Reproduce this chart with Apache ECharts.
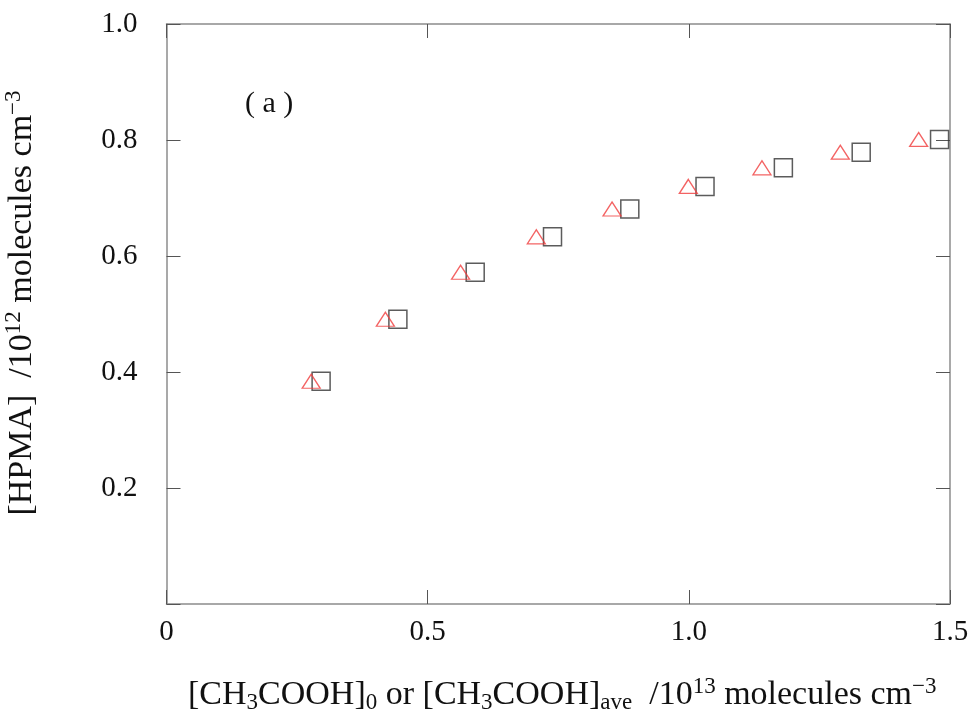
<!DOCTYPE html>
<html>
<head>
<meta charset="utf-8">
<script src="https://cdn.jsdelivr.net/npm/echarts@6/dist/echarts.min.js"></script>
<style>
html,body{margin:0;padding:0;background:#fff;}
#c{width:974px;height:711px;}
</style>
</head>
<body>
<div id="c"></div>
<script>
// Data
var triangleX = [0.277, 0.419, 0.563, 0.708, 0.853, 0.999, 1.140, 1.290, 1.440];
var triangleY = [0.384, 0.491, 0.572, 0.633, 0.681, 0.720, 0.752, 0.779, 0.801];
var squareX   = [0.296, 0.443, 0.591, 0.739, 0.887, 1.031, 1.181, 1.330, 1.480];
var squareY   = [0.384, 0.491, 0.572, 0.633, 0.681, 0.720, 0.752, 0.779, 0.801];
var xTicks = [0, 0.5, 1.0, 1.5];
var yTicks = [0.2, 0.4, 0.6, 0.8, 1.0];
var panelLabel = '( a )';

function pairs(xs, ys){ return xs.map(function(x,i){ return [x, ys[i]]; }); }

var FONT = '"Liberation Serif", "Times New Roman", serif';
var axisLineColor = '#8c8c8c';
var tickColor = '#555';

var nameRich = {
  n:   {fontSize: 34, fontFamily: FONT, color: '#111'},
  sub: {fontSize: 23, fontFamily: FONT, color: '#111', padding: [15,0,0,0]},
  sup: {fontSize: 23, fontFamily: FONT, color: '#111', padding: [0,0,17,0]}
};

var chart = echarts.init(document.getElementById('c'), null, {renderer: 'canvas'});
var option = {
  animation: false,
  backgroundColor: '#fff',
  grid: {left: 166.5, right: 24, top: 24, bottom: 107, containLabel: false, outerBoundsMode: 'none'},
  xAxis: [{
    type: 'value', min: 0, max: 1.5, interval: 0.5, position: 'bottom',
    axisLine: {show: true, onZero: false, lineStyle: {color: axisLineColor, width: 1.5}},
    axisTick: {show: true, inside: true, length: 14, lineStyle: {color: tickColor, width: 1}},
    splitLine: {show: false},
    axisLabel: {
      margin: 14, fontSize: 29, fontFamily: FONT, color: '#111',
      formatter: function(v){
        for (var i=0;i<xTicks.length;i++){ if (Math.abs(xTicks[i]-v)<1e-9) return v===0 ? '0' : v.toFixed(1); }
        return '';
      }
    },
    name: '{n|[CH}{sub|3}{n|COOH]}{sub|0}{n| or [CH}{sub|3}{n|COOH]}{sub|ave}{n|  /10}{sup|13}{n| molecules cm}{sup|−3}',
    nameLocation: 'middle', nameGap: 71,
    nameTextStyle: {rich: nameRich, padding: [0,0,0,8]}
  },{
    type: 'value', min: 0, max: 1.5, interval: 0.5, position: 'top',
    axisLine: {show: true, onZero: false, lineStyle: {color: axisLineColor, width: 1.5}},
    axisTick: {show: true, inside: true, length: 14, lineStyle: {color: tickColor, width: 1}},
    axisLabel: {show: false}, splitLine: {show: false}
  }],
  yAxis: [{
    type: 'value', min: 0, max: 1.0, interval: 0.2, position: 'left',
    axisLine: {show: true, onZero: false, lineStyle: {color: axisLineColor, width: 1.5}},
    axisTick: {show: true, inside: true, length: 14, lineStyle: {color: tickColor, width: 1}},
    splitLine: {show: false},
    axisLabel: {
      margin: 29, fontSize: 29, fontFamily: FONT, color: '#111',
      formatter: function(v){
        for (var i=0;i<yTicks.length;i++){ if (Math.abs(yTicks[i]-v)<1e-9) return v.toFixed(1); }
        return '';
      }
    },
    name: '{n|[HPMA]  /10}{sup|12}{n| molecules cm}{sup|−3}',
    nameLocation: 'middle', nameGap: 124, nameRotate: 90,
    nameTextStyle: {rich: nameRich, padding: [0,0,0,22]}
  },{
    type: 'value', min: 0, max: 1.0, interval: 0.2, position: 'right',
    axisLine: {show: true, onZero: false, lineStyle: {color: axisLineColor, width: 1.5}},
    axisTick: {show: true, inside: true, length: 14, lineStyle: {color: tickColor, width: 1}},
    axisLabel: {show: false}, splitLine: {show: false}
  }],
  graphic: [{
    type: 'text', left: 245, top: 89,
    style: {text: panelLabel, fontSize: 30, fontFamily: FONT, fill: '#111'}
  }],
  series: [{
    type: 'scatter', xAxisIndex: 0, yAxisIndex: 0,
    data: pairs(squareX, squareY),
    symbol: 'rect', symbolSize: 18,
    itemStyle: {color: 'rgba(0,0,0,0)', borderColor: '#333', borderWidth: 1.5},
    z: 2
  },{
    type: 'scatter', xAxisIndex: 0, yAxisIndex: 0,
    data: pairs(triangleX, triangleY),
    symbol: 'triangle', symbolSize: [18, 14],
    itemStyle: {color: 'rgba(0,0,0,0)', borderColor: '#f03c3c', borderWidth: 1.3},
    z: 3
  }]
};
chart.setOption(option);
</script>
</body>
</html>
